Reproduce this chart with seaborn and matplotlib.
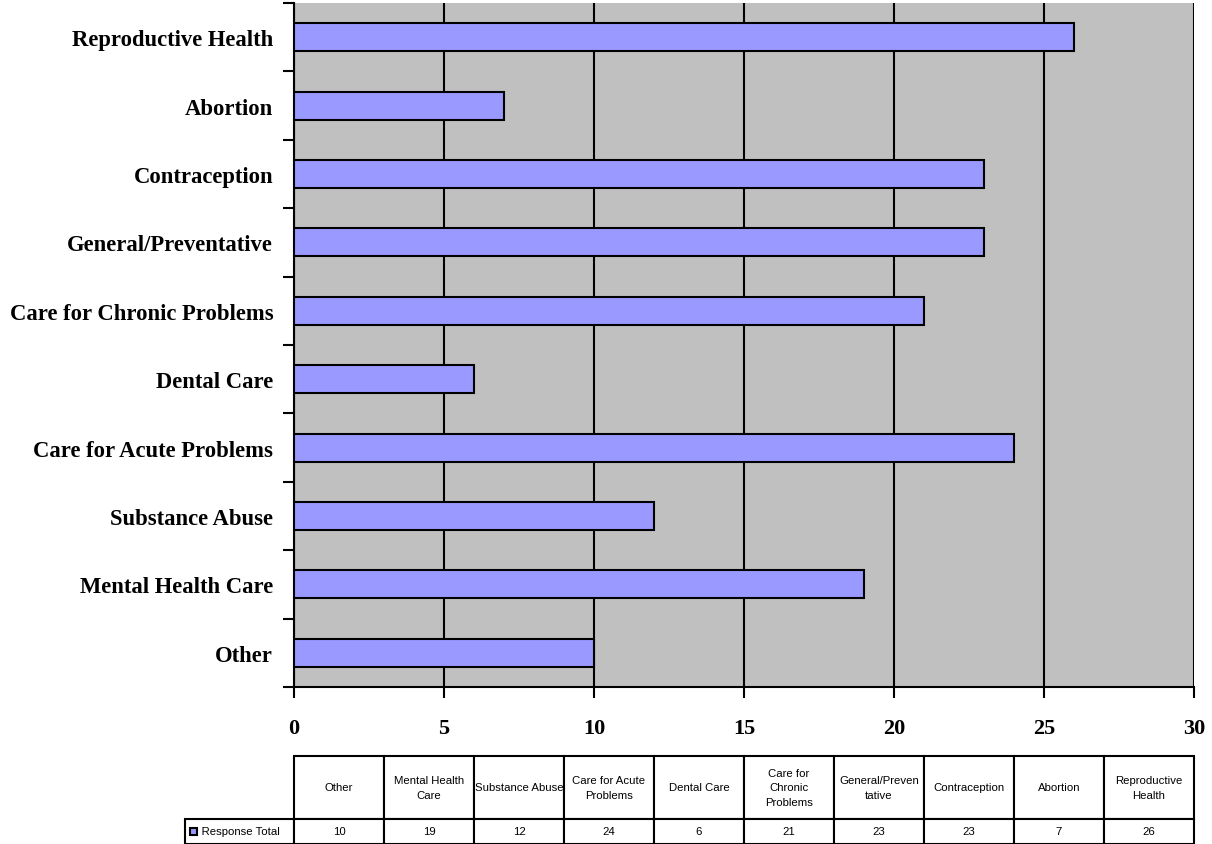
import matplotlib
matplotlib.use("Agg")
import matplotlib.pyplot as plt
import seaborn as sns
import pandas as pd
from matplotlib.patches import Rectangle

categories = ["Other", "Mental Health Care", "Substance Abuse", "Care for Acute Problems",
              "Dental Care", "Care for Chronic Problems", "General/Preventative",
              "Contraception", "Abortion", "Reproductive Health"]
values = [10, 19, 12, 24, 6, 21, 23, 23, 7, 26]
table_headers = ["Other", "Mental Health\nCare", "Substance Abuse", "Care for Acute\nProblems",
                 "Dental Care", "Care for\nChronic\nProblems", "General/Preven\ntative",
                 "Contraception", "Abortion", "Reproductive\nHealth"]
series_name = "Response Total"
x_ticks = [0, 5, 10, 15, 20, 25, 30]

df = pd.DataFrame({"category": categories, "value": values})
order = categories[::-1]

sns.set_style("white")
plt.rcParams["font.family"] = ["Liberation Serif", "DejaVu Serif"]
plt.rcParams["text.color"] = "black"
plt.rcParams["xtick.color"] = "black"
plt.rcParams["ytick.color"] = "black"

fig = plt.figure(figsize=(12.12, 8.45), dpi=100)
ax = fig.add_axes([294/1212, 1-688/845, 900/1212, 684/845])
ax.set_facecolor("#C0C0C0")

sns.barplot(data=df, y="category", x="value", order=order, orient="h",
            color="#9999FF", edgecolor="black", linewidth=1.5, width=0.41,
            saturation=1, ax=ax, zorder=3)

ax.set_xlim(0, 30)
ax.set_ylim(9.5, -0.5)
ax.set_xticks(x_ticks)
ax.set_xticklabels([str(t) for t in x_ticks], fontsize=16, fontweight="bold", color="black")
ax.xaxis.grid(True, color="black", linewidth=1.5, zorder=1)
ax.set_axisbelow(True)

ax.set_yticks([i - 0.5 for i in range(11)])
ax.set_yticklabels([])
ax.set_yticks(list(range(10)), minor=True)
ax.set_yticklabels(order, minor=True, fontsize=16.3, fontweight="bold", color="black")
ax.tick_params(axis="y", which="major", direction="out", length=8, width=1.5, color="black", left=True)
ax.tick_params(axis="y", which="minor", length=0, pad=15)
ax.tick_params(axis="x", which="major", direction="out", length=8, width=1.5, color="black",
               bottom=True, pad=14)
ax.set_xlabel("")
ax.set_ylabel("")
for s in ["top", "right"]:
    ax.spines[s].set_visible(False)
for s in ["left", "bottom"]:
    ax.spines[s].set_color("black")
    ax.spines[s].set_linewidth(1.5)

# data table in its own axes
tax = fig.add_axes([185/1212, 1-845/845, 1009/1212, 88/845])
tax.axis("off")
cell_text = [[""] + table_headers, ["     " + series_name] + [str(v) for v in values]]
tab = tax.table(cellText=cell_text, cellLoc="center", bbox=[0, 0, 1, 1])
tab.auto_set_font_size(False)
for (r, c), cell in tab.get_celld().items():
    cell.set_linewidth(1.5)
    cell.set_edgecolor("black")
    cell.set_facecolor("white")
    txt = cell.get_text()
    txt.set_fontfamily(["Liberation Sans", "DejaVu Sans"])
    txt.set_fontsize(8.2)
    txt.set_color("black")
    txt.set_linespacing(1.6)
    cell.set_width(109 if c == 0 else 90)
    cell.set_height(63 if r == 0 else 25)
    if c == 0:
        txt.set_horizontalalignment("left")
        cell._loc = "left"
        cell.PAD = 0.01
        if r == 0:
            cell.visible_edges = ""

fig.patches.append(Rectangle((190/1212, 1-836/845), 7/1212, 7/845, transform=fig.transFigure,
                             facecolor="#9999FF", edgecolor="black", linewidth=1.5, zorder=10))

fig.savefig("out.png", dpi=100)
